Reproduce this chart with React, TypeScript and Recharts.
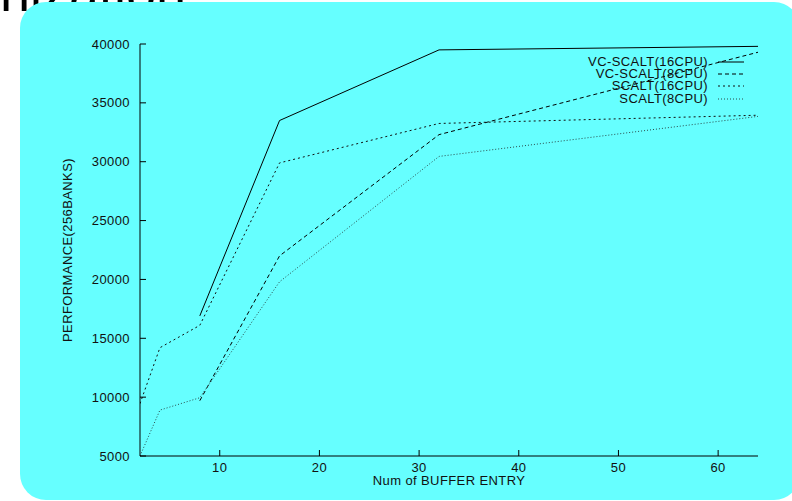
import { LineChart, Line, XAxis, YAxis, Legend } from 'recharts'

const bufferEntries = [2, 4, 8, 16, 32, 64]
const vcScalt16 = [null, null, 16900, 33500, 39500, 39800]
const vcScalt8 = [null, null, 9700, 22000, 32300, 39300]
const scalt16 = [9450, 14200, 16100, 29900, 33250, 33950]
const scalt8 = [5000, 8900, 9950, 19800, 30450, 33850]

const xTicks = [10, 20, 30, 40, 50, 60]
const yTicks = [5000, 10000, 15000, 20000, 25000, 30000, 35000, 40000]

const seriesNames = ['VC-SCALT(16CPU)', 'VC-SCALT(8CPU)', 'SCALT(16CPU)', 'SCALT(8CPU)']
const seriesKeys = ['vc16', 'vc8', 's16', 's8']
const seriesDash = ['', '4 3', '2 3', '1 2']
const seriesColor = ['#000', '#000', '#111', '#2a4a4a']

const data = bufferEntries.map((x, i) => ({
  x,
  vc16: vcScalt16[i],
  vc8: vcScalt8[i],
  s16: scalt16[i],
  s8: scalt8[i],
}))

const FONT = '"Liberation Sans", Arial, Helvetica, sans-serif'

function BottomTick({ x, y, payload }: any) {
  return (
    <g>
      <line x1={x} y1={y} x2={x} y2={y - 6} stroke="#000" />
      <text x={x} y={y + 15.5} textAnchor="middle" fontSize={13} fill="#111" letterSpacing={0.4}>
        {payload.value}
      </text>
    </g>
  )
}

function LeftTick({ x, y, payload }: any) {
  return (
    <g>
      <line x1={x} y1={y} x2={x + 6} y2={y} stroke="#000" />
      <text x={x - 10} y={y + 4.5} textAnchor="end" fontSize={13} fill="#111" letterSpacing={0.4}>
        {payload.value}
      </text>
    </g>
  )
}

function TopTick({ x, y }: any) {
  return <line x1={x} y1={y} x2={x} y2={y + 6} stroke="#000" />
}

function RightTick({ x, y }: any) {
  return <line x1={x} y1={y} x2={x - 6} y2={y} stroke="#000" />
}

function LegendBox() {
  return (
    <div style={{ fontFamily: FONT, fontSize: 13, color: '#111' }}>
      {seriesNames.map((name, i) => (
        <div
          key={name}
          style={{ display: 'flex', alignItems: 'center', justifyContent: 'flex-end', height: 12.4 }}
        >
          <span style={{ letterSpacing: 0.4, whiteSpace: 'nowrap', lineHeight: '12px' }}>{name}</span>
          <svg width={36} height={12} style={{ display: 'block' }}>
            <line
              x1={10}
              y1={6}
              x2={36}
              y2={6}
              stroke={seriesColor[i]}
              strokeDasharray={seriesDash[i] || undefined}
            />
          </svg>
        </div>
      ))}
    </div>
  )
}

export default function App() {
  return (
    <div
      style={{
        position: 'absolute',
        left: 0,
        top: 0,
        width: 792,
        height: 501,
        overflow: 'hidden',
        background: '#fff',
        fontFamily: FONT,
      }}
    >
      <div
        style={{
          position: 'absolute',
          left: 0,
          top: -35,
          fontSize: 54,
          lineHeight: '54px',
          color: '#000',
          whiteSpace: 'nowrap',
        }}
      >
        nization
      </div>
      <div
        style={{
          position: 'absolute',
          left: 20,
          top: 2,
          width: 780,
          height: 498,
          borderRadius: 26,
          background: '#66ffff',
        }}
      />
      <div style={{ position: 'absolute', left: 0, top: 0 }}>
        <LineChart width={792} height={501} data={data} margin={{ top: 44, right: 34, bottom: 0, left: 0 }}>
          <XAxis
            dataKey="x"
            type="number"
            domain={[2, 64]}
            ticks={xTicks}
            interval={0}
            allowDataOverflow
            height={45}
            tickSize={0}
            tickMargin={0}
            tick={<BottomTick />}
            axisLine={{ stroke: '#000' }}
            label={{ value: 'Num of BUFFER ENTRY', position: 'center', fontSize: 13, fill: '#111', dy: 2, letterSpacing: 0.4 }}
          />
          <XAxis
            xAxisId="top"
            orientation="top"
            type="number"
            domain={[2, 64]}
            ticks={xTicks}
            interval={0}
            height={0}
            tickSize={0}
            tickMargin={0}
            tick={<TopTick />}
            axisLine={{ stroke: '#000' }}
          />
          <YAxis
            type="number"
            domain={[5000, 40000]}
            ticks={yTicks}
            interval={0}
            allowDataOverflow
            width={140}
            tickSize={0}
            tickMargin={0}
            tick={<LeftTick />}
            axisLine={{ stroke: '#000' }}
            label={{ value: 'PERFORMANCE(256BANKS)', angle: -90, position: 'center', dx: -2.5, fontSize: 13, fill: '#111', letterSpacing: 0.4 }}
          />
          <YAxis
            yAxisId="right"
            orientation="right"
            type="number"
            domain={[5000, 40000]}
            ticks={yTicks}
            interval={0}
            width={0}
            tickSize={0}
            tickMargin={0}
            tick={<RightTick />}
            axisLine={{ stroke: '#000' }}
          />
          <Legend
            layout="vertical"
            align="center"
            verticalAlign="middle"
            content={<LegendBox />}
            wrapperStyle={{ left: 'auto', right: 48, top: 55.5, width: 'auto' }}
          />
          {seriesKeys.map((key, i) => (
            <Line
              key={key}
              dataKey={key}
              name={seriesNames[i]}
              type="linear"
              stroke={seriesColor[i]}
              strokeWidth={1}
              strokeDasharray={seriesDash[i] || undefined}
              dot={false}
              activeDot={false}
              isAnimationActive={false}
            />
          ))}
        </LineChart>
      </div>
    </div>
  )
}
